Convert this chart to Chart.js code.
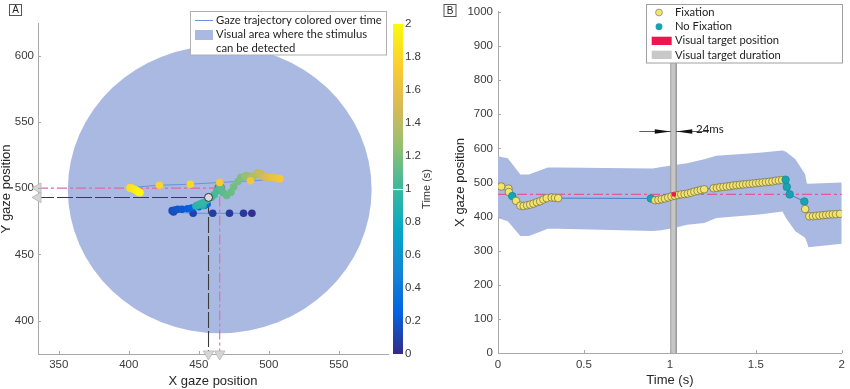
<!DOCTYPE html>
<html><head><meta charset="utf-8">
<script src="https://cdn.jsdelivr.net/npm/chart.js@4/dist/chart.umd.min.js"></script>
<style>
html,body{margin:0;padding:0;background:#fff;}
#wrap{position:relative;width:850px;height:389px;overflow:hidden;background:#fff;}
#cA{position:absolute;left:0;top:0;}
#cB{position:absolute;left:430px;top:0;}
</style></head><body>
<div id="wrap">
<canvas id="cA" width="440" height="389"></canvas>
<canvas id="cB" width="420" height="389"></canvas>
</div>
<script>
// ---------------- DATA ----------------
// gaze samples (time in s, X and Y gaze position, fixation flag)
const timeS = [0.019,0.061,0.063,0.083,0.105,0.13,0.149,0.169,0.187,0.206,0.226,0.245,0.264,0.283,0.312,0.331,0.35,
  0.889,0.914,0.933,0.952,0.971,0.99,1.009,1.028,1.047,1.066,1.085,1.104,1.123,1.142,1.161,1.18,1.199,
  1.254,1.273,1.292,1.311,1.33,1.349,1.368,1.387,1.406,1.425,1.444,1.463,1.482,1.501,1.52,1.539,1.558,1.577,1.596,1.615,1.634,1.653,
  1.673,1.68,1.697,1.782,1.787,1.811,1.832,1.851,1.87,1.89,1.909,1.928,1.947,1.966,1.989];
const gazeX = [488,482,472,460,446,432,431,433,435,438,442,445,450,454,456,455,454,
  453,448,449,451,453,456,459,461,463,465,466,467.5,470,473,475,478,480,
  483,484,486,487,488,489,491,492,493,494,495,496,497,498,499,500,501,502,503,505,506,507,
  508,487,465,444,422,401,401,402,403,404,405,406,406.5,407,408];
const gazeY = [481,481,481,481,481,482,483,483.5,484,484,484.5,485,486,487,488,488,488,
  487,486.5,487,488,489,491,493,495,498,501,500,496.5,494.5,497,501,505,508,
  509,509.5,509,508,508,509,510.5,511.5,511.5,511,510,509,508.5,508.5,508.5,508,508,508,508,507.5,507.5,507.5,
  507,505.5,504.3,503,502.2,500.5,500,500,499.5,499,498.5,498,497.5,497,496.5];
const fixation = [1,1,1,0,1,1,1,1,1,1,1,1,1,1,1,1,1,
  0,1,1,1,1,1,1,1,1,1,1,1,1,1,1,1,1,
  1,1,1,1,1,1,1,1,1,1,1,1,1,1,1,1,1,1,1,1,1,1,
  0,0,0,0,1,1,1,1,1,1,1,1,1,1,1];
// visual detection band (panel B)
const bandT  = [0,0.057,0.13,0.18,0.29,0.35,0.9,0.95,1.03,1.10,1.2,1.27,1.52,1.655,1.675,1.73,1.786,1.797,1.806,2.0];
const bandHi = [577,571,523,523,544,544,541,545,551,556,568,578,587,594,590,568,525,497,496,500];
const bandLo = [396,386,343,343,364,364,358,360,367,376,381,396,406,415,396,357,338,325,310,320];
// target / events
const targetPos = [465, 500];
const gazeAtTarget = [457, 493];
const detectCenter = [465, 499];
const detectRadius = 108.5;
const targetTime = 1.023;
const durStart = 1.005, durEnd = 1.037;
const durLabel = '24ms';
const arrowLevel = 652, arrowTailL = 0.822, arrowTailR = 1.225, durLabelT = 1.152;
// axes
const rangeAX = [335.2, 585.2], rangeAY = [374.8, 624.0];
const ticksAX = [350,400,450,500,550];
const ticksAY = [400,450,500,550,600];
const colorbarTicks = [0,0.2,0.4,0.6,0.8,1,1.2,1.4,1.6,1.8,2];
const timeRange = [0, 2];
const ticksBX = [0,0.5,1,1.5,2];
const ticksBY = [0,100,200,300,400,500,600,700,800,900,1000];

// ---------------- STYLE ----------------
const parulaStops = ['#352a87','#0363e1','#1485d4','#06a7c6','#38b99e','#92bf73','#d9ba56','#fcce2e','#f9fb0e'];
function hexRgb(h){return [parseInt(h.slice(1,3),16),parseInt(h.slice(3,5),16),parseInt(h.slice(5,7),16)];}
function parula(f){
  f=Math.max(0,Math.min(1,f));const n=parulaStops.length-1;const i=Math.min(n-1,Math.floor(f*n));const u=f*n-i;
  const a=hexRgb(parulaStops[i]),b=hexRgb(parulaStops[i+1]);
  return 'rgb('+a.map((v,k)=>Math.round(v+(b[k]-v)*u)).join(',')+')';
}
const AREA = '#aab9e1';
const TICKFONT = {family:'"Liberation Sans", Arial, sans-serif', size:11.5};
const TITLEFONT = {family:'"Liberation Sans", Arial, sans-serif', size:13};
const LEGFONT_A = '11.3px Lato, "Open Sans", sans-serif';
const LEGFONT_B = '11.2px Lato, "Open Sans", sans-serif';
const AXISCOL = '#a8a8a8';
const fmt = v => String(Math.round(v*10)/10);
const setTicks = arr => (s => { s.ticks = arr.map(v => ({value:v})); });

const inwardTicks = {
  id:'inwardTicks',
  afterDraw(chart){
    const ctx=chart.ctx, a=chart.chartArea, x=chart.scales.x, y=chart.scales.y;
    ctx.save(); ctx.strokeStyle=AXISCOL; ctx.lineWidth=1; ctx.beginPath();
    x.ticks.forEach(t=>{const p=Math.round(x.getPixelForValue(t.value))+0.5; ctx.moveTo(p,a.bottom); ctx.lineTo(p,a.bottom-3);});
    y.ticks.forEach(t=>{const p=Math.round(y.getPixelForValue(t.value))+0.5; ctx.moveTo(a.left,p); ctx.lineTo(a.left+3,p);});
    ctx.stroke(); ctx.restore();
  }
};
function panelTag(ctx, x, y, w, h, txt){
  ctx.save(); ctx.fillStyle='#fff'; ctx.fillRect(x,y,w,h);
  ctx.strokeStyle='#555'; ctx.lineWidth=1; ctx.strokeRect(x+0.5,y+0.5,w,h);
  ctx.fillStyle='#222'; ctx.font='10px "Liberation Sans", Arial, sans-serif'; ctx.textAlign='center'; ctx.textBaseline='middle';
  ctx.fillText(txt, x+w/2+0.5, y+h/2+1); ctx.restore();
}

// ---------------- PANEL A ----------------
const circlePlugin = {
  id:'detectCircle',
  beforeDatasetsDraw(chart){
    const ctx=chart.ctx, x=chart.scales.x, y=chart.scales.y;
    const cx=x.getPixelForValue(detectCenter[0]), cy=y.getPixelForValue(detectCenter[1]);
    const rx=x.getPixelForValue(detectCenter[0]+detectRadius)-cx, ry=cy-y.getPixelForValue(detectCenter[1]+detectRadius);
    ctx.save(); ctx.fillStyle=AREA; ctx.beginPath(); ctx.ellipse(cx,cy,rx,ry,0,0,Math.PI*2); ctx.fill(); ctx.restore();
  }
};
const decorA = {
  id:'decorA',
  afterDraw(chart){
    const ctx=chart.ctx, cb=chart.scales.cb;
    // colorbar
    const top=cb.getPixelForValue(timeRange[1]), bot=cb.getPixelForValue(timeRange[0]);
    const g=ctx.createLinearGradient(0,bot,0,top);
    parulaStops.forEach((c,i)=>g.addColorStop(i/(parulaStops.length-1),c));
    ctx.save(); ctx.fillStyle=g; ctx.fillRect(393,top,10,bot-top);
    const y1=Math.round(cb.getPixelForValue(targetTime-0.023))+0.5;
    ctx.strokeStyle='#fff'; ctx.lineWidth=1.2; ctx.beginPath(); ctx.moveTo(391,y1); ctx.lineTo(403,y1); ctx.stroke();
    // colorbar title
    ctx.translate(427,(top+bot)/2); ctx.rotate(-Math.PI/2);
    ctx.fillStyle='#333'; ctx.font='11px "Liberation Sans", Arial, sans-serif'; ctx.textAlign='center'; ctx.textBaseline='middle';
    ctx.fillText('Time (s)',0,0); ctx.restore();
    // legend
    ctx.save();
    ctx.fillStyle='#fff'; ctx.fillRect(191,12,196,43);
    ctx.strokeStyle='#b0b0b0'; ctx.lineWidth=1; ctx.strokeRect(190.5,11.5,196,43.5);
    ctx.strokeStyle='#6d8fe0'; ctx.lineWidth=1; ctx.beginPath(); ctx.moveTo(195,20.5); ctx.lineTo(213,20.5); ctx.stroke();
    ctx.fillStyle=AREA; ctx.fillRect(195,30,18,10);
    ctx.fillStyle='#1e1e1e'; ctx.font=LEGFONT_A; ctx.textBaseline='middle'; ctx.textAlign='left';
    ctx.fillText('Gaze trajectory colored over time',216,20);
    ctx.fillText('Visual area where the stimulus',216,34.5);
    ctx.fillText('can be detected',216,48.5);
    ctx.restore();
    panelTag(ctx,9,4,12,11,'A');
  }
};
const trajA = gazeX.map((x,i)=>({x, y:gazeY[i]}));
new Chart(document.getElementById('cA'), {
  type:'line',
  data:{datasets:[
    {label:'Gaze trajectory colored over time', data:trajA, showLine:true, borderColor:'#5b86d6', borderWidth:0.8,
      pointRadius:3.8, pointBackgroundColor:timeS.map(t=>parula(t/timeRange[1])), pointBorderWidth:0, order:5},
    {label:'gaze at target', data:[{x:rangeAX[0],y:gazeAtTarget[1]},{x:gazeAtTarget[0],y:gazeAtTarget[1]},{x:gazeAtTarget[0],y:rangeAY[0]}],
      showLine:true, borderColor:'#3a3a3a', borderWidth:1.1, borderDash:[16,3], pointRadius:0, order:8, clip:false},
    {label:'target', data:[{x:rangeAX[0],y:targetPos[1]},{x:targetPos[0],y:targetPos[1]},{x:targetPos[0],y:rangeAY[0]}],
      showLine:true, borderColor:'#e06aa0', borderWidth:1.1, borderDash:[10,3,3,3], pointRadius:0, order:8, clip:false},
    {label:'target point', data:[{x:targetPos[0],y:targetPos[1]}], showLine:false, pointRadius:5.5,
      pointBackgroundColor:'#dc3a72', pointBorderWidth:0, order:6},
    {label:'gaze point', data:[{x:gazeAtTarget[0],y:gazeAtTarget[1]}], showLine:false, pointRadius:4,
      pointBackgroundColor:'#dcdcdc', pointBorderColor:'#333', pointBorderWidth:1, order:1},
    {label:'marks left', data:[{x:rangeAX[0],y:targetPos[1]},{x:rangeAX[0],y:gazeAtTarget[1]}], showLine:false,
      pointStyle:'triangle', rotation:-90, pointRadius:6, pointBackgroundColor:'#d6d6d6', pointBorderColor:'#bdbdbd', pointBorderWidth:1, order:0, clip:false},
    {label:'marks bottom', data:[{x:gazeAtTarget[0],y:rangeAY[0]},{x:targetPos[0],y:rangeAY[0]}], showLine:false,
      pointStyle:'triangle', rotation:180, pointRadius:6, pointBackgroundColor:'#d6d6d6', pointBorderColor:'#bdbdbd', pointBorderWidth:1, order:0, clip:false}
  ]},
  options:{
    responsive:false, devicePixelRatio:1, animation:false,
    layout:{autoPadding:false, padding:{left:0,right:0,top:5,bottom:0}},
    plugins:{legend:{display:false}, tooltip:{enabled:false}},
    scales:{
      x:{type:'linear', min:rangeAX[0], max:rangeAX[1], afterBuildTicks:setTicks(ticksAX), afterFit:s=>{s.height=35;},
        grid:{display:false, drawTicks:false}, border:{display:true,color:AXISCOL,width:1},
        ticks:{font:TICKFONT, color:'#3a3a3a', padding:4, maxRotation:0, callback:fmt},
        title:{display:true, text:'X gaze position', font:TITLEFONT, color:'#262626', padding:{top:0,bottom:-0.5}}},
      y:{type:'linear', min:rangeAY[0], max:rangeAY[1], afterBuildTicks:setTicks(ticksAY), afterFit:s=>{s.width=38;},
        grid:{display:false, drawTicks:false}, border:{display:true,color:AXISCOL,width:1},
        ticks:{font:TICKFONT, color:'#3a3a3a', padding:4, callback:fmt},
        title:{display:true, text:'Y gaze position', font:TITLEFONT, color:'#262626', padding:{top:-1.8,bottom:0}}},
      cb:{type:'linear', axis:'y', position:'right', min:timeRange[0], max:timeRange[1], afterBuildTicks:setTicks(colorbarTicks), afterFit:s=>{s.width=52;},
        grid:{display:false, drawTicks:false}, border:{display:false},
        ticks:{font:TICKFONT, color:'#3a3a3a', padding:17, callback:fmt}}
    }
  },
  plugins:[circlePlugin, inwardTicks, decorA]
});

// ---------------- PANEL B ----------------
const decorB = {
  id:'decorB',
  afterDraw(chart){
    const ctx=chart.ctx, x=chart.scales.x, y=chart.scales.y;
    ctx.save();
    const ya=Math.round(y.getPixelForValue(arrowLevel))+0.5;
    const xl0=x.getPixelForValue(arrowTailL), xl1=x.getPixelForValue(durStart);
    const xr0=x.getPixelForValue(arrowTailR), xr1=x.getPixelForValue(durEnd);
    ctx.strokeStyle='#333'; ctx.lineWidth=0.8; ctx.beginPath();
    ctx.moveTo(xl0,ya); ctx.lineTo(xl1,ya); ctx.moveTo(xr1,ya); ctx.lineTo(xr0,ya); ctx.stroke();
    ctx.fillStyle='#111'; ctx.beginPath();
    ctx.moveTo(xl1,ya); ctx.lineTo(xl1-16,ya-2.2); ctx.lineTo(xl1-16,ya+2.2); ctx.closePath();
    ctx.moveTo(xr1,ya); ctx.lineTo(xr1+16,ya-2.2); ctx.lineTo(xr1+16,ya+2.2); ctx.closePath(); ctx.fill();
    ctx.fillStyle='#222'; ctx.font='11.5px Lato, "Open Sans", sans-serif'; ctx.textAlign='left'; ctx.textBaseline='alphabetic';
    ctx.fillText(durLabel, x.getPixelForValue(durLabelT), ya+1);
    // legend
    ctx.fillStyle='#fff'; ctx.fillRect(216,4,196,59);
    ctx.strokeStyle='#a0a0a0'; ctx.lineWidth=1; ctx.strokeRect(216.5,4.5,196,58.5);
    ctx.fillStyle='#f3e46c'; ctx.strokeStyle='#8a8a70'; ctx.lineWidth=0.8;
    ctx.beginPath(); ctx.arc(229,12.5,3.4,0,Math.PI*2); ctx.fill(); ctx.stroke();
    ctx.fillStyle='#17a3b3'; ctx.beginPath(); ctx.arc(229,26.7,3.4,0,Math.PI*2); ctx.fill();
    ctx.fillStyle='#ee1650'; ctx.fillRect(221.7,36.7,20,8.3);
    ctx.fillStyle='#c8c8c8'; ctx.fillRect(221.7,50.7,20,8.3);
    ctx.fillStyle='#1e1e1e'; ctx.font=LEGFONT_B; ctx.textBaseline='middle';
    ctx.fillText('Fixation',245,12.5);
    ctx.fillText('No Fixation',245,26.5);
    ctx.fillText('Visual target position',245,40.8);
    ctx.fillText('Visual target duration',245,55);
    ctx.restore();
    panelTag(ctx,13.5,4,12,12,'B');
  }
};
new Chart(document.getElementById('cB'), {
  type:'line',
  data:{datasets:[
    {label:'band hi', data:bandT.map((t,i)=>({x:t,y:bandHi[i]})), showLine:true, borderWidth:0, pointRadius:0, fill:false, order:10},
    {label:'Visual area', data:bandT.map((t,i)=>({x:t,y:bandLo[i]})), showLine:true, borderWidth:0, pointRadius:0,
      fill:'-1', backgroundColor:AREA, order:9},
    {label:'Visual target duration', data:[{x:durStart,y:ticksBY[0]},{x:durStart,y:ticksBY[ticksBY.length-1]},{x:durEnd,y:ticksBY[ticksBY.length-1]},{x:durEnd,y:ticksBY[0]}],
      showLine:true, borderColor:'#9c9c9c', borderWidth:1, backgroundColor:'#c6c6c6', fill:'origin', pointRadius:0, order:8},
    {label:'target level', data:[{x:timeRange[0],y:targetPos[0]},{x:timeRange[1],y:targetPos[0]}], showLine:true,
      borderColor:'#dc5c98', borderWidth:1.2, borderDash:[10,3,3,3], pointRadius:0, order:6},
    {label:'gaze', data:gazeX.map((v,i)=>({x:timeS[i],y:v})), showLine:true, borderColor:'#4d7cc4', borderWidth:1,
      pointRadius:3.8, pointBackgroundColor:fixation.map(f=>f?'#f3e46c':'#17a3b3'),
      pointBorderColor:fixation.map(f=>f?'#6e6a48':'#168896'), pointBorderWidth:0.7, order:4},
    {label:'Visual target position', data:[{x:targetTime,y:targetPos[0]}], showLine:false, pointStyle:'rect', pointRadius:3,
      pointBackgroundColor:'#ee1650', pointBorderWidth:0, order:2}
  ]},
  options:{
    responsive:false, devicePixelRatio:1, animation:false,
    layout:{autoPadding:false, padding:{left:0,right:3,top:5,bottom:0}},
    plugins:{legend:{display:false}, tooltip:{enabled:false}},
    scales:{
      x:{type:'linear', min:timeRange[0], max:timeRange[1], afterBuildTicks:setTicks(ticksBX), afterFit:s=>{s.height=36;},
        grid:{display:false, drawTicks:false}, border:{display:true,color:AXISCOL,width:1},
        ticks:{font:TICKFONT, color:'#3a3a3a', padding:5, maxRotation:0, callback:fmt},
        title:{display:true, text:'Time (s)', font:TITLEFONT, color:'#262626', padding:{top:0,bottom:1.2}}},
      y:{type:'linear', min:ticksBY[0], max:ticksBY[ticksBY.length-1], afterBuildTicks:setTicks(ticksBY), afterFit:s=>{s.width=68;},
        grid:{display:false, drawTicks:false}, border:{display:true,color:AXISCOL,width:1},
        ticks:{font:TICKFONT, color:'#3a3a3a', padding:5, callback:fmt},
        title:{display:true, text:'X gaze position', font:TITLEFONT, color:'#262626', padding:{top:23,bottom:0}}}
    }
  },
  plugins:[inwardTicks, decorB]
});
</script>
</body></html>
